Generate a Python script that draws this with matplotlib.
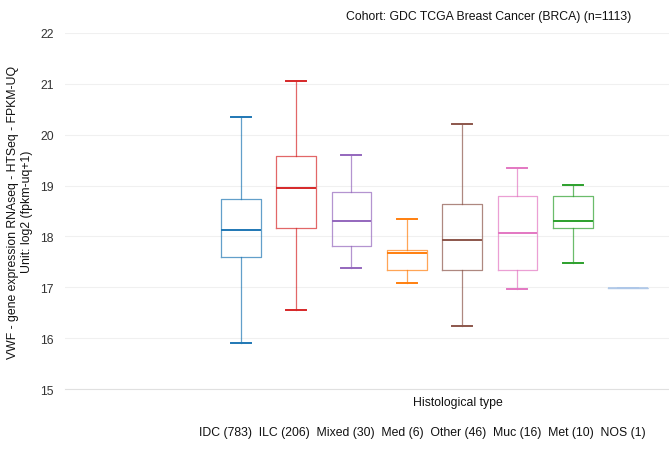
import matplotlib.pyplot as plt
from matplotlib.colors import to_rgba

plt.rcParams['font.family'] = ['Liberation Sans', 'DejaVu Sans']

# data
categories = ['IDC', 'ILC', 'Mixed', 'Med', 'Other', 'Muc', 'Met', 'NOS']
counts = [783, 206, 30, 6, 46, 16, 10, 1]
whislo = [15.90, 16.55, 17.38, 17.09, 16.23, 16.97, 17.48, 16.99]
q1 = [17.59, 18.16, 17.81, 17.34, 17.34, 17.34, 18.17, 16.99]
med = [18.12, 18.95, 18.30, 17.68, 17.93, 18.07, 18.31, 16.99]
q3 = [18.74, 19.58, 18.88, 17.74, 18.63, 18.80, 18.80, 16.99]
whishi = [20.35, 21.05, 19.61, 18.35, 20.20, 19.35, 19.02, 16.99]
colors = ['#1f77b4', '#d62728', '#9467bd', '#ff7f0e', '#8c564b', '#e377c2', '#2ca02c', '#aec7e8']

fig = plt.figure(figsize=(6.69, 4.52), dpi=100)
ax = fig.add_axes([0.097, 0.137, 0.903, 0.788])

stats = []
for i, c in enumerate(categories):
    stats.append(dict(label=c, whislo=whislo[i], q1=q1[i], med=med[i],
                      q3=q3[i], whishi=whishi[i], fliers=[]))

pos = list(range(len(categories)))
bp = ax.bxp(stats, positions=pos, widths=0.72, showfliers=False,
            patch_artist=False, capwidths=0.36, manage_ticks=False)

for i, col in enumerate(colors):
    light = to_rgba(col, 0.7)
    bp['boxes'][i].set(color=light, linewidth=0.9)
    bp['medians'][i].set(color=col, linewidth=1.4)
    for w in bp['whiskers'][2 * i:2 * i + 2]:
        w.set(color=light, linewidth=0.9)
    for cap in bp['caps'][2 * i:2 * i + 2]:
        cap.set(color=col, linewidth=1.4)
# the single-sample group is drawn faint
bp['boxes'][7].set(color=to_rgba(colors[7], 0.8))
bp['medians'][7].set(color=to_rgba(colors[7], 0.8))

ax.set_xlim(-3.18, 7.74)
ax.set_ylim(15, 22)
ax.set_yticks(range(15, 23))
ax.set_xticks([])
ax.tick_params(axis='y', length=0, labelsize=8.8, labelcolor='#333333', pad=8)
ax.grid(axis='y', color='#f0f0f0', linewidth=0.8)
ax.set_axisbelow(True)
for s in ['top', 'right', 'left']:
    ax.spines[s].set_visible(False)
ax.spines['bottom'].set_color('#e0e0e0')
ax.spines['bottom'].set_linewidth(0.8)

ax.set_ylabel('VWF - gene expression RNAseq - HTSeq - FPKM-UQ\nUnit: log2 (fpkm-uq+1)',
              fontsize=8.8, color='#111111', labelpad=5, linespacing=1.3)

fig.text(0.73, 0.963, 'Cohort: GDC TCGA Breast Cancer (BRCA) (n=1113)',
         ha='center', va='center', fontsize=8.8, color='#111111')
fig.text(0.685, 0.108, 'Histological type', ha='center', va='center',
         fontsize=8.8, color='#111111')

xlabels = '  '.join(f'{c} ({n})' for c, n in zip(categories, counts))
fig.text(0.631, 0.042, xlabels, ha='center', va='center', fontsize=8.8,
         color='#111111')

fig.savefig('out.png', dpi=100)
